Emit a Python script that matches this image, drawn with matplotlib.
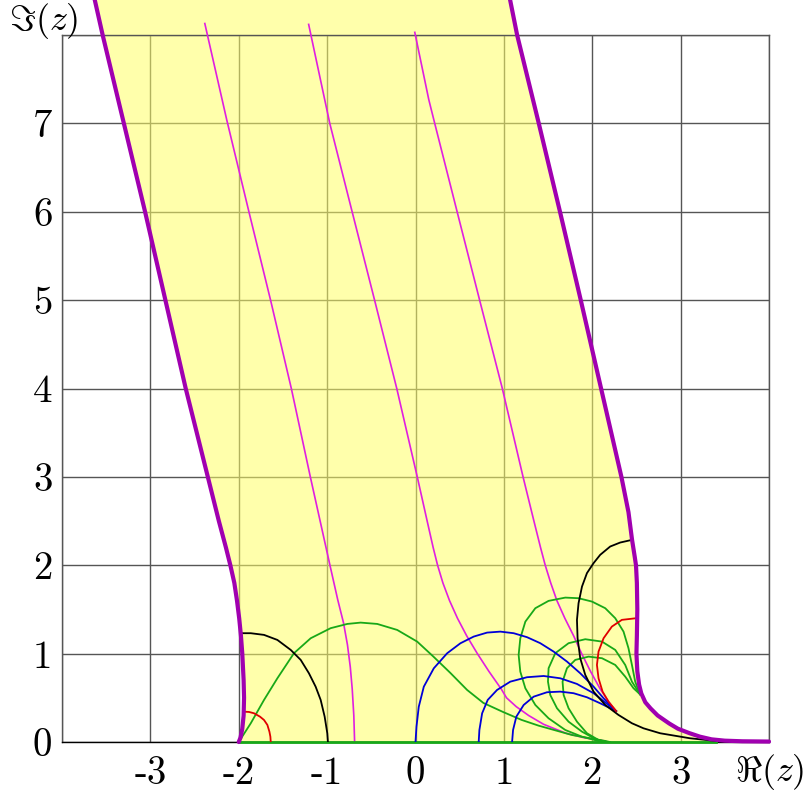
import matplotlib
matplotlib.use('Agg')
import matplotlib.pyplot as plt

plt.rcParams['mathtext.fontset'] = 'cm'

# ---- data (in data units) ----
left_bx = [-3.63, -3.54, -3.30, -3.06, -2.83, -2.60, -2.35, -2.225, -2.145, -2.095, -2.05, -2.02, -1.995, -1.975, -1.96, -1.945, -1.94, -1.945, -1.96, -1.98, -2.0]
left_by = [8.40, 8.00, 7.00, 6.00, 5.00, 4.00, 3.00, 2.50, 2.20, 2.00, 1.80, 1.60, 1.40, 1.20, 1.00, 0.70, 0.50, 0.30, 0.15, 0.05, 0.0]

right_bx = [1.07, 1.15, 1.395, 1.635, 1.87, 2.10, 2.33, 2.41, 2.45, 2.48, 2.495, 2.505, 2.51, 2.505, 2.50, 2.51, 2.53, 2.555, 2.60, 2.66, 2.74, 2.87, 2.97, 3.10, 3.22, 3.35, 3.50, 3.70, 4.00]
right_by = [8.40, 8.00, 7.00, 6.00, 5.00, 4.00, 3.00, 2.60, 2.29, 2.10, 2.00, 1.80, 1.50, 1.20, 1.00, 0.80, 0.65, 0.55, 0.45, 0.38, 0.30, 0.21, 0.15, 0.10, 0.06, 0.03, 0.015, 0.008, 0.005]

thinA_x = [-2.384, -2.136, -1.885, -1.640, -1.405, -1.190, -0.968, -0.880, -0.815, -0.770, -0.738, -0.716, -0.698, -0.689]
thinA_y = [8.13, 7.04, 6.00, 5.00, 4.00, 3.00, 2.00, 1.61, 1.35, 1.10, 0.85, 0.60, 0.30, 0.0]

thinB_x = [-1.209, -0.970, -0.717, -0.463, -0.212, 0.020, 0.132, 0.200, 0.250, 0.31, 0.385, 0.475, 0.58, 0.70, 0.83, 0.97, 1.03, 1.14, 1.28, 1.45, 1.70, 1.90, 2.147, 2.17]
thinB_y = [8.12, 7.00, 6.00, 5.00, 4.00, 3.00, 2.50, 2.20, 2.00, 1.80, 1.60, 1.40, 1.20, 1.00, 0.80, 0.60, 0.50, 0.40, 0.30, 0.20, 0.10, 0.05, 0.011, 0.0]

thinC_x = [-0.008, 0.150, 0.215, 0.471, 0.723, 0.980, 1.217, 1.34, 1.415, 1.468, 1.53, 1.60, 1.69, 1.79, 1.88, 1.98, 2.09, 2.19, 2.27]
thinC_y = [8.03, 7.27, 7.01, 6.00, 5.01, 4.01, 3.00, 2.50, 2.20, 2.00, 1.80, 1.60, 1.40, 1.20, 1.00, 0.80, 0.60, 0.45, 0.35]

green0_x = [-2.0, -1.864, -1.714, -1.563, -1.375, -1.186, -0.960, -0.772, -0.621, -0.433, -0.207, 0.019, 0.203, 0.395, 0.584, 0.768, 0.99, 1.20, 1.393, 1.771, 2.147, 2.2]
green0_y = [0.0, 0.212, 0.476, 0.721, 1.005, 1.174, 1.288, 1.336, 1.351, 1.336, 1.268, 1.136, 0.966, 0.781, 0.589, 0.442, 0.34, 0.25, 0.185, 0.079, 0.012, 0.0]

green1_x = [2.124, 2.071, 1.884, 1.695, 1.506, 1.356, 1.243, 1.186, 1.167, 1.186, 1.243, 1.356, 1.506, 1.695, 1.845, 1.997, 2.147, 2.260, 2.354, 2.410, 2.449, 2.486, 2.54]
green1_y = [0.0, 0.011, 0.060, 0.136, 0.268, 0.419, 0.608, 0.796, 0.985, 1.174, 1.362, 1.514, 1.597, 1.634, 1.627, 1.589, 1.514, 1.401, 1.249, 1.061, 0.872, 0.683, 0.54]

green2_x = [2.15, 2.034, 1.884, 1.732, 1.601, 1.525, 1.499, 1.506, 1.582, 1.732, 1.921, 2.110, 2.260, 2.373, 2.449, 2.54]
green2_y = [0.0, 0.034, 0.117, 0.230, 0.382, 0.532, 0.683, 0.835, 1.005, 1.118, 1.163, 1.136, 1.042, 0.872, 0.683, 0.54]

green3_x = [2.16, 2.071, 1.940, 1.827, 1.732, 1.676, 1.664, 1.714, 1.808, 1.958, 2.110, 2.260, 2.373, 2.467, 2.54]
green3_y = [0.0, 0.023, 0.099, 0.230, 0.382, 0.532, 0.683, 0.835, 0.929, 0.966, 0.948, 0.872, 0.740, 0.608, 0.54]

greenaxis_x = [-2.0, 3.4]
greenaxis_y = [0.0, 0.0]

blue1_x = [0.0, 0.011, 0.037, 0.094, 0.207, 0.358, 0.508, 0.659, 0.810, 0.960, 1.111, 1.262, 1.412, 1.563, 1.714, 1.864, 2.015, 2.128, 2.27]
blue1_y = [0.0, 0.173, 0.399, 0.626, 0.834, 1.004, 1.117, 1.193, 1.238, 1.249, 1.231, 1.186, 1.118, 1.023, 0.910, 0.778, 0.626, 0.495, 0.35]

blue2_x = [0.715, 0.723, 0.754, 0.817, 0.923, 1.073, 1.262, 1.450, 1.638, 1.827, 2.015, 2.27]
blue2_y = [0.0, 0.136, 0.325, 0.476, 0.589, 0.683, 0.733, 0.747, 0.721, 0.657, 0.552, 0.35]

blue3_x = [1.093, 1.104, 1.141, 1.224, 1.337, 1.488, 1.638, 1.789, 1.940, 2.090, 2.27]
blue3_y = [0.0, 0.136, 0.287, 0.419, 0.513, 0.563, 0.570, 0.552, 0.506, 0.438, 0.35]

black1_x = [-1.958, -1.864, -1.714, -1.563, -1.412, -1.299, -1.206, -1.130, -1.073, -1.028, -0.998, -0.991]
black1_y = [1.231, 1.231, 1.212, 1.155, 1.042, 0.929, 0.778, 0.626, 0.476, 0.287, 0.098, 0.0]

black2_x = [2.44, 2.316, 2.203, 2.090, 2.015, 1.940, 1.884, 1.845, 1.827, 1.834, 1.864, 1.921, 2.015, 2.147, 2.297, 2.449, 2.580, 2.768, 3.107, 3.409]
black2_y = [2.285, 2.257, 2.212, 2.118, 2.024, 1.911, 1.759, 1.571, 1.382, 1.174, 0.948, 0.759, 0.570, 0.419, 0.306, 0.212, 0.155, 0.099, 0.042, 0.011]

red1_x = [-1.940, -1.884, -1.827, -1.760, -1.714, -1.676, -1.653, -1.642, -1.638]
red1_y = [0.343, 0.340, 0.325, 0.287, 0.249, 0.193, 0.117, 0.060, 0.0]

red2_x = [2.50, 2.335, 2.222, 2.128, 2.071, 2.053, 2.071, 2.117, 2.184, 2.27]
red2_y = [1.401, 1.382, 1.306, 1.174, 1.023, 0.872, 0.721, 0.570, 0.456, 0.35]

xticks = [-4, -3, -2, -1, 0, 1, 2, 3, 4]
xticklabels = ['', '-3', '-2', '-1', '0', '1', '2', '3', '']
yticks = [0, 1, 2, 3, 4, 5, 6, 7, 8]
yticklabels = ['0', '1', '2', '3', '4', '5', '6', '7', '']

# ---- figure ----
fig = plt.figure(figsize=(8.06, 7.94), dpi=100)
ax = fig.add_axes([62/806, 52/794, 707/806, 707/794])
ax.set_xlim(-4, 4)
ax.set_ylim(0, 8)
ax.set_xticks(xticks)
ax.set_xticklabels(xticklabels, fontfamily='cmr10', fontsize=28)
ax.set_yticks(yticks)
ax.set_yticklabels(yticklabels, fontfamily='cmr10', fontsize=28)
ax.tick_params(length=0)
ax.tick_params(axis='x', pad=10)
ax.tick_params(axis='y', pad=7)
ax.set_axisbelow(True)
ax.grid(True, color='#555555', lw=1.0)
for s in ax.spines.values():
    s.set_color('#555555')
    s.set_linewidth(1.0)
ax.spines['bottom'].set_color('#000000')

# yellow domain
poly_x = left_bx + right_bx[::-1]
poly_y = left_by + right_by[::-1]
ax.fill(poly_x, poly_y, color='#ffff66', alpha=0.55, lw=0, zorder=1, clip_on=False)

thin = dict(color='#e01ee0', lw=1.2, zorder=3, clip_on=False)
ax.plot(thinA_x, thinA_y, **thin)
ax.plot(thinB_x, thinB_y, **thin)
ax.plot(thinC_x, thinC_y, **thin)

gr = dict(color='#18a818', lw=1.3, zorder=4)
ax.plot(greenaxis_x, greenaxis_y, color='#18a818', lw=2.0, zorder=4, clip_on=False)
ax.plot(green0_x, green0_y, **gr)
ax.plot(green1_x, green1_y, **gr)
ax.plot(green2_x, green2_y, **gr)
ax.plot(green3_x, green3_y, **gr)

bl = dict(color='#0000d8', lw=1.3, zorder=5)
ax.plot(blue1_x, blue1_y, **bl)
ax.plot(blue2_x, blue2_y, **bl)
ax.plot(blue3_x, blue3_y, **bl)

ax.plot(black1_x, black1_y, color='black', lw=1.3, zorder=5)
ax.plot(black2_x, black2_y, color='black', lw=1.3, zorder=5)

ax.plot(red1_x, red1_y, color='#e00000', lw=1.3, zorder=5)
ax.plot(red2_x, red2_y, color='#e00000', lw=1.3, zorder=5)

thick = dict(color='#a000b0', lw=3.0, zorder=6, clip_on=False, solid_capstyle='round')
ax.plot(left_bx, left_by, **thick)
ax.plot(right_bx, right_by, **thick)

ax.text(-0.0255, 1.0198, r'$\Im(z)$', transform=ax.transAxes, fontsize=26,
        ha='center', va='center')
ax.text(1.0014, -0.0424, r'$\Re(z)$', transform=ax.transAxes, fontsize=26,
        ha='center', va='center')

fig.savefig('out.png', dpi=100)
